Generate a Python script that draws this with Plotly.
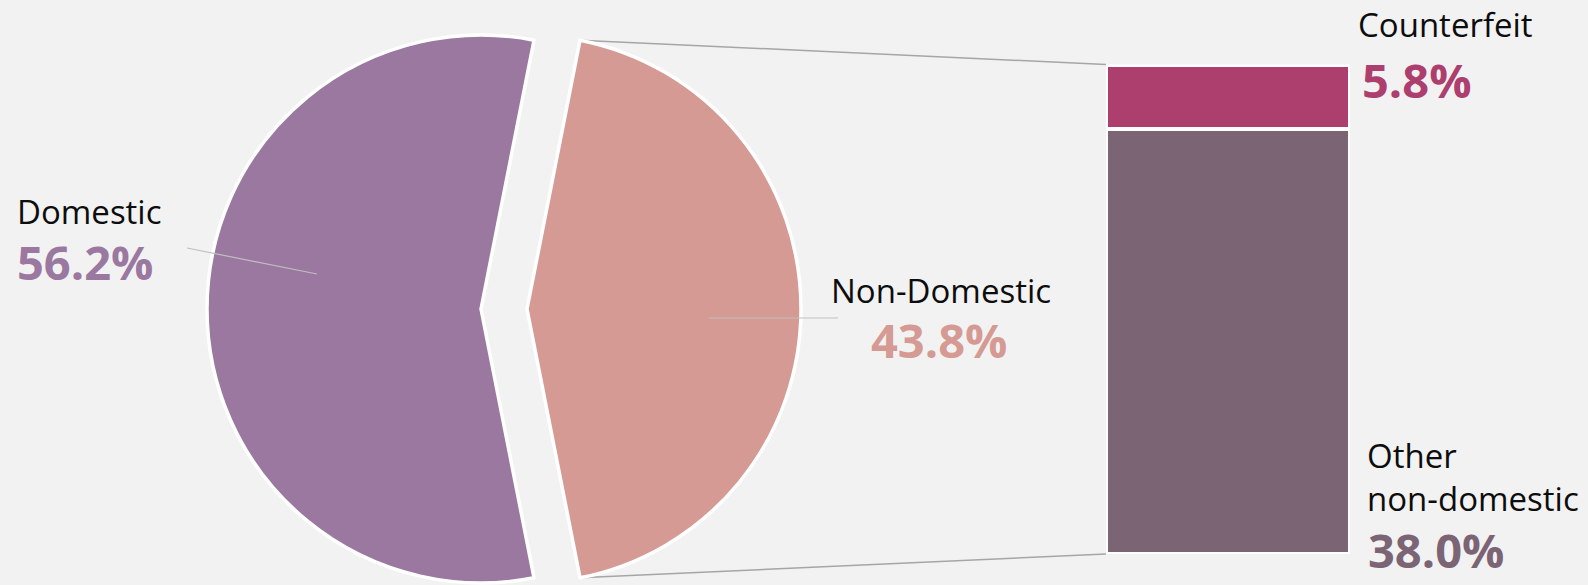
import math
import plotly.graph_objects as go

W, H = 1588, 585
BG = "#f2f2f2"

# ---- data ----
pie_labels = ["Domestic", "Non-Domestic"]
pie_values = [56.2, 43.8]
pie_colors = ["#9a78a0", "#d49a93"]

bar_labels = ["Other non-domestic", "Counterfeit"]
bar_label_text = ["Other<br>non-domestic", "Counterfeit"]
bar_values = [38.0, 5.8]
bar_colors = ["#7b6575", "#ad3f6e"]

# ---- layout constants (pixels) ----
R = 274
CY = 309
DOM_CX = 481
ND_CX = 527
BAR_X0, BAR_X1 = 1106, 1350
BAR_Y_TOP, BAR_Y_BOT = 64.5, 554

FONT = "Open Sans"
NAME_SIZE = 33
PCT_SIZE = 47


def px(x):
    return x / W


def py(y):
    return 1 - y / H


total = sum(pie_values)
rotation = 90 + 180 * pie_values[1] / total

fig = go.Figure()

# exploded pie: two pie traces, each showing one slice
for i, cx in enumerate([DOM_CX, ND_CX]):
    colors = [c if j == i else "rgba(0,0,0,0)" for j, c in enumerate(pie_colors)]
    widths = [3.5 if j == i else 0 for j in range(len(pie_values))]
    fig.add_trace(go.Pie(
        labels=pie_labels, values=pie_values, sort=False,
        direction="clockwise", rotation=rotation,
        marker=dict(colors=colors, line=dict(color="white", width=widths)),
        textinfo="none", hoverinfo="label+percent", showlegend=False,
        domain=dict(x=[px(cx - R), px(cx + R)], y=[py(CY + R), py(CY - R)]),
    ))

# stacked bar breaking down Non-Domestic
for lab, val, col in zip(bar_labels, bar_values, bar_colors):
    fig.add_trace(go.Bar(
        x=["Non-Domestic"], y=[val], name=lab, width=1,
        marker=dict(color=col, line=dict(color="white", width=4)),
        showlegend=False, hoverinfo="name+y",
    ))

bar_total = sum(bar_values)

# connector lines from exploded slice to bar
theta = math.radians(180 * pie_values[1] / total)
corner_x = ND_CX + R * math.cos(theta)
corner_top = CY - R * math.sin(theta)
corner_bot = CY + R * math.sin(theta)
shapes = [
    dict(type="line", xref="paper", yref="paper", layer="below",
         x0=px(corner_x), y0=py(corner_top), x1=px(BAR_X0), y1=py(BAR_Y_TOP),
         line=dict(color="#a6a6a6", width=1.5)),
    dict(type="line", xref="paper", yref="paper", layer="below",
         x0=px(corner_x), y0=py(corner_bot), x1=px(BAR_X0), y1=py(BAR_Y_BOT),
         line=dict(color="#a6a6a6", width=1.5)),
    # leader lines
    dict(type="line", xref="paper", yref="paper", layer="above",
         x0=px(187), y0=py(248), x1=px(317), y1=py(274),
         line=dict(color="#bfbfbf", width=1.2)),
    dict(type="line", xref="paper", yref="paper", layer="above",
         x0=px(709), y0=py(318), x1=px(838), y1=py(318),
         line=dict(color="#bfbfbf", width=1.2)),
]


def ann(text, x, y, size, color, bold=False, xanchor="left", align="left"):
    return dict(
        text=f"<b>{text}</b>" if bold else text,
        x=px(x), y=py(y), xref="paper", yref="paper",
        xanchor=xanchor, yanchor="middle", showarrow=False, align=align,
        font=dict(family=FONT, size=size, color=color),
    )


annotations = [
    ann(pie_labels[0], 15, 211, NAME_SIZE, "#0d0d0d"),
    ann(f"{pie_values[0]:.1f}%", 15, 262, PCT_SIZE, pie_colors[0], bold=True),
    ann(pie_labels[1], 941, 290, NAME_SIZE, "#0d0d0d", xanchor="center", align="center"),
    ann(f"{pie_values[1]:.1f}%", 939, 340, PCT_SIZE, pie_colors[1], bold=True, xanchor="center", align="center"),
    ann(bar_label_text[1], 1356, 25, NAME_SIZE, "#0d0d0d"),
    ann(f"{bar_values[1]:.1f}%", 1360, 80, PCT_SIZE, bar_colors[1], bold=True),
    ann(bar_label_text[0], 1365, 477, NAME_SIZE, "#0d0d0d"),
    ann(f"{bar_values[0]:.1f}%", 1366, 550, PCT_SIZE, bar_colors[0], bold=True),
]

fig.update_layout(
    width=W, height=H,
    margin=dict(l=0, r=0, t=0, b=0),
    paper_bgcolor=BG, plot_bgcolor="rgba(0,0,0,0)",
    barmode="stack",
    xaxis=dict(domain=[px(BAR_X0), px(BAR_X1)], range=[-0.5, 0.5], visible=False, fixedrange=True),
    yaxis=dict(domain=[py(BAR_Y_BOT), py(BAR_Y_TOP)], range=[0, bar_total], visible=False, fixedrange=True),
    shapes=shapes,
    annotations=annotations,
    font=dict(family=FONT),
)

fig.write_html(
    "out.html",
    config={"displayModeBar": False},
    post_script="document.body.style.margin='0';document.body.style.overflow='hidden';",
)
